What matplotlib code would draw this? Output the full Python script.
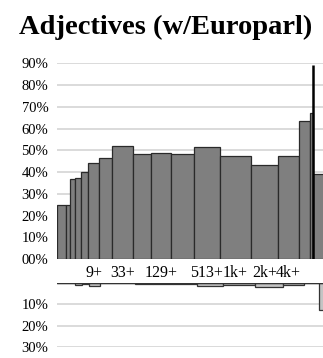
import numpy as np
import matplotlib
matplotlib.use('Agg')
from matplotlib import pyplot as plt

plt.rcParams['font.family'] = ['Liberation Serif', 'DejaVu Serif']

# largura de cada faixa de frequência e resultados por faixa
widths = [9.6, 4.4, 4.6, 6.4, 7.0, 11.6, 12.4, 22.3, 17.7, 20.3, 24.0, 26.0, 31.7, 28.0, 21.6, 11.0, 3.2, 20.0]
acc = [24.8, 25.0, 36.6, 37.1, 40.2, 44.2, 46.5, 52.1, 48.4, 48.9, 48.4, 51.5, 47.5, 43.4, 47.5, 63.6, 67.0, 39.0]
loss = [0.2, 0.2, 0.2, 0.7, 0.4, 1.2, 0.2, 0.2, 0.5, 0.6, 0.3, 1.2, 1.1, 2.0, 0.8, 0.2, 0.2, 12.5]
bin_labels = ['', '', '', '', '', '9+', '', '33+', '', '129+', '', '513+', '1k+', '2k+', '4k+', '', '', '']
overall = 89.0  # linha vertical de referência
yticks_top = [0, 10, 20, 30, 40, 50, 60, 70, 80, 90]
yticks_bot = [10, 20, 30]

left = np.concatenate([[0], np.cumsum(widths)[:-1]])
centers = left + np.array(widths) / 2

W, H = 323, 358
fig = plt.figure(figsize=(W / 100, H / 100), dpi=100)
x0 = 56.7
ax1 = fig.add_axes([x0 / W, 1 - 259 / H, 1 - x0 / W, (259 - 63.3) / H])
ax2 = fig.add_axes([x0 / W, 1 - 347.3 / H, 1 - x0 / W, (347.3 - 283) / H])

grid_c = '#d4d4d4'
for ax in (ax1, ax2):
    for s in ax.spines.values():
        s.set_visible(False)
    ax.set_xlim(0, W - x0)
    ax.tick_params(length=0, labelsize=10.5, pad=6)
    ax.set_axisbelow(True)

# painel superior
ax1.bar(left, acc, width=widths, align='edge', color='#7f7f7f', edgecolor='#2a2a2a', linewidth=0.9, zorder=2)
ax1.vlines(left[-1], 0, overall, color='black', linewidth=1.8, zorder=3)
ax1.set_ylim(0, 90)
ax1.set_yticks(yticks_top)
ax1.set_yticklabels(['00%'] + ['%d%%' % v for v in yticks_top[1:]])
for v in yticks_top[1:]:
    ax1.axhline(v, color=grid_c, linewidth=1.2, zorder=0)
ax1.set_xticks(centers)
ax1.set_xticklabels(bin_labels)
ax1.tick_params(axis='x', pad=4, labelsize=11.5)

# painel inferior (invertido)
ax2.bar(left, loss, width=widths, align='edge', color='#c4c4c4', edgecolor='#333333', linewidth=0.9, zorder=2)
ax2.axhline(0, color='#333333', linewidth=1.0, zorder=3)
ax2.set_ylim(30, 0)
ax2.set_yticks(yticks_bot)
ax2.set_yticklabels(['%d%%' % v for v in yticks_bot])
for v in yticks_bot:
    ax2.axhline(v, color=grid_c, linewidth=1.2, zorder=0)
ax2.set_xticks([])

fig.text(0.512, 1 - 33.5 / H, 'Adjectives (w/Europarl)', ha='center', va='baseline',
         fontsize=20.5, fontweight='bold')

fig.savefig('out.png', dpi=100)
